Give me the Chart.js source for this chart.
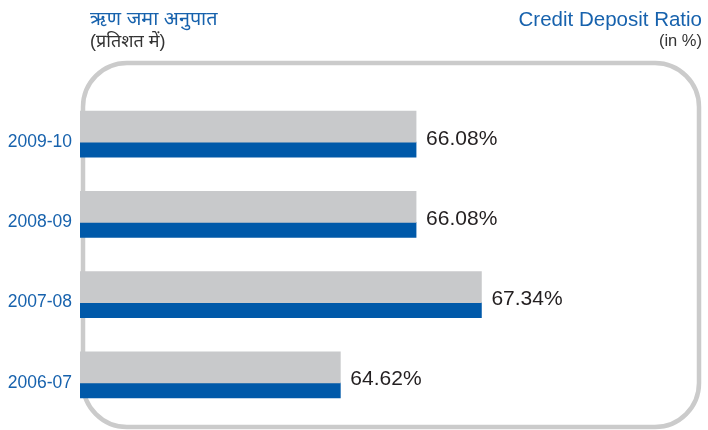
<!DOCTYPE html>
<html>
<head>
<meta charset="utf-8">
<script src="https://cdn.jsdelivr.net/npm/chart.js@4"></script>
<style>
  body { margin: 0; background: #fff; }
  #wrap { position: relative; width: 708px; height: 430px; }
  .t { position: absolute; font-family: "Liberation Sans", Arial, "Noto Sans Devanagari", "Noto Sans", sans-serif; white-space: nowrap; line-height: 1.15; }
  .blue { color: #1762ad; font-size: 20.5px; }
  .sub { color: #333; font-size: 16.5px; }
</style>
</head>
<body>
<div id="wrap">
  <canvas id="myChart" width="708" height="430"></canvas>
  <div class="t blue" style="left:90px; top:7px; font-size:19.8px;">ऋण जमा अनुपात</div>
  <div class="t sub" style="left:90px; top:31px; font-size:18px;">(प्रतिशत में)</div>
  <div class="t blue" style="right:6px; top:7px;">Credit Deposit Ratio</div>
  <div class="t sub" style="right:6px; top:31px;">(in %)</div>
</div>
<script>
var years = ['2009-10', '2008-09', '2007-08', '2006-07'];
var creditDepositRatio = [66.08, 66.08, 67.34, 64.62];
var valueLabels = ['66.08%', '66.08%', '67.34%', '64.62%'];

// rounded grey frame behind the bars
var framePlugin = {
    id: 'frame',
    beforeDatasetsDraw: function(chart) {
        var c = chart.ctx;
        var x = 83, y = 63, w = 616, h = 364, r = 44;
        c.save();
        c.strokeStyle = '#cbcbcb';
        c.lineWidth = 4.5;
        c.beginPath();
        c.roundRect(x, y, w, h, r);
        c.stroke();
        c.restore();
    }
};

// percentage labels at the end of each bar
var labelPlugin = {
    id: 'barLabels',
    afterDatasetsDraw: function(chart) {
        var c = chart.ctx;
        var meta = chart.getDatasetMeta(0);
        c.save();
        c.font = '21px "Liberation Sans", Arial, sans-serif';
        c.fillStyle = '#231f20';
        c.textAlign = 'left';
        c.textBaseline = 'alphabetic';
        meta.data.forEach(function(bar, i) {
            c.fillText(valueLabels[i], bar.x + 10, bar.y + 18);
        });
        c.restore();
    }
};

var ctx = document.getElementById('myChart').getContext('2d');
var myChart = new Chart(ctx, {
    type: 'bar',
    data: {
        labels: years,
        datasets: [{
            label: 'Credit Deposit Ratio',
            data: creditDepositRatio,
            backgroundColor: '#c8c9cb',
            barThickness: 31
        }, {
            label: 'Credit Deposit Ratio (%)',
            data: creditDepositRatio,
            backgroundColor: '#0059a9',
            barThickness: 15
        }]
    },
    options: {
        indexAxis: 'y',
        responsive: false,
        animation: false,
        layout: { padding: { top: 102, bottom: 7, left: 0, right: 16 } },
        plugins: {
            legend: { display: false },
            tooltip: { enabled: false }
        },
        scales: {
            x: {
                display: false,
                min: 59.6,
                max: 71.4
            },
            y: {
                grid: { display: false, drawTicks: false },
                border: { display: false },
                ticks: {
                    color: '#1762ad',
                    padding: 8,
                    font: { family: '"Liberation Sans", Arial, sans-serif', size: 17.5 }
                },
                afterFit: function(scale) {
                    scale.width = 80;
                    scale.paddingTop = 0;
                    scale.paddingBottom = 0;
                }
            }
        }
    },
    plugins: [framePlugin, labelPlugin]
});
</script>
</body>
</html>
